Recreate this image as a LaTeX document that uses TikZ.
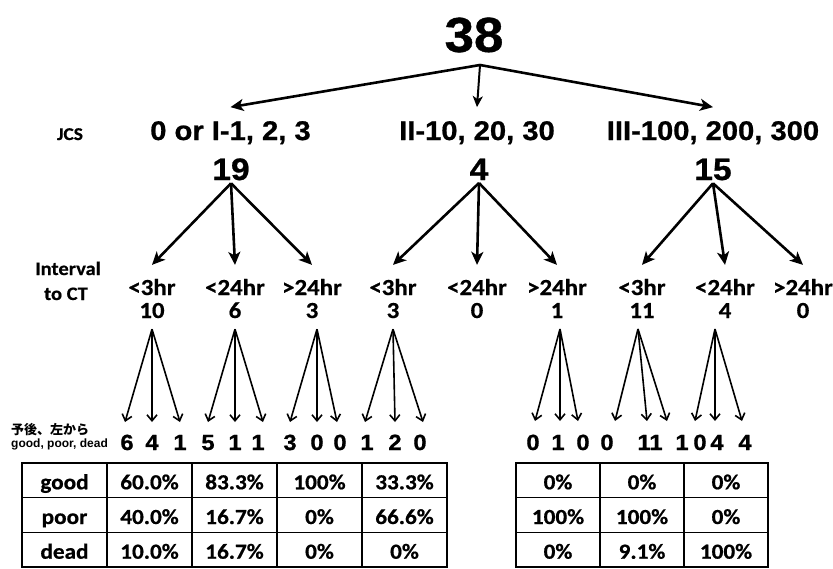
\documentclass[tikz,border=0pt]{standalone}
\usepackage{fontspec}
\setmainfont{Liberation Sans}
\newfontfamily\headfont[FakeStretch=1.08,FakeBold=0.8]{Liberation Sans}
\newfontfamily\calfont[FakeStretch=1.08,FakeBold=0.6]{Carlito}
\newfontfamily\jpfont{Noto Sans CJK JP}
\usetikzlibrary{arrows.meta}
\begin{document}
\begin{tikzpicture}[x=1pt,y=-1pt,
  bigarrow/.style={-{Stealth[length=13pt,width=12pt,inset=3.5pt]}, line width=2.6pt},
  midarrow/.style={-{Stealth[length=11pt,width=10pt,inset=3pt]}, line width=2pt},
  thinarrow/.style={-{Straight Barb[length=6pt,width=10pt]}, line width=1.6pt},
  lvlone/.style={font=\headfont\bfseries\fontsize{27}{30}\selectfont, inner sep=0pt, anchor=base, outer ysep=14pt},
  cntone/.style={font=\headfont\bfseries\fontsize{31}{32}\selectfont, inner sep=0pt, anchor=base, outer ysep=3pt},
  ivl/.style={font=\calfont\bfseries\fontsize{23}{24}\selectfont, inner sep=0pt, anchor=base, outer ysep=14pt},
  cnttwo/.style={font=\calfont\bfseries\fontsize{23}{24}\selectfont, inner sep=0pt, anchor=base, outer ysep=11pt},
  leaf/.style={font=\headfont\bfseries\fontsize{22}{24}\selectfont, inner sep=0pt, anchor=base},
  side/.style={font=\calfont\bfseries\fontsize{19}{25}\selectfont, inner sep=0pt, anchor=base},
  cell/.style={draw, line width=1.4pt, inner sep=0pt, minimum height=34.67pt, text height=18pt, text depth=0pt, font=\calfont\bfseries\fontsize{21.5}{22}\selectfont},
  cellA/.style={cell, minimum width=85pt},
  cellB/.style={cell, minimum width=84pt}
]
\useasboundingbox[fill=white] (0,0) rectangle (833,568);

% root
\node[font=\headfont\bfseries\fontsize{49}{50}\selectfont, inner sep=0pt] (top) at (474,35) {38};
\coordinate (split) at (480,65);

% level 1
\node[side, font=\calfont\bfseries\fontsize{18}{18}\selectfont] (jcs) at (70,140) {JCS};
\node[lvlone] (ja) at (230.5,140) {0 or I-1, 2, 3};
\node[lvlone] (jb) at (477,140) {II-10, 20, 30};
\node[lvlone] (jc) at (713,140) {III-100, 200, 300};
\draw[bigarrow] (split) -- (ja.north);
\draw[midarrow] (split) -- (jb.north);
\draw[bigarrow] (split) -- (jc.north);

\node[cntone] (na) at (231,180) {19};
\node[cntone] (nb) at (479,180) {4};
\node[cntone] (nc) at (713,180) {15};

% level 2
\node[side] (iv1) at (68,275) {Interval};
\node[side] (iv2) at (66,300) {to CT};

\node[ivl] (i1) at (152,295) {<3hr};
\node[ivl] (i2) at (235,295) {<24hr};
\node[ivl] (i3) at (312,295) {>24hr};
\node[ivl] (i4) at (393,295) {<3hr};
\node[ivl] (i5) at (477,295) {<24hr};
\node[ivl] (i6) at (557,295) {>24hr};
\node[ivl] (i7) at (642,295) {<3hr};
\node[ivl] (i8) at (725,295) {<24hr};
\node[ivl] (i9) at (803,295) {>24hr};

\node[cnttwo] (c1) at (152,318) {10};
\node[cnttwo] (c2) at (235,318) {6};
\node[cnttwo] (c3) at (312,318) {3};
\node[cnttwo] (c4) at (393,318) {3};
\node[cnttwo] (c5) at (477,318) {0};
\node[cnttwo] (c6) at (557,318) {1};
\node[cnttwo] (c7) at (642,318) {11};
\node[cnttwo] (c8) at (725,318) {4};
\node[cnttwo] (c9) at (803,318) {0};

\foreach \s/\t in {na/i1,na/i2,na/i3,nb/i4,nb/i5,nb/i6,nc/i7,nc/i8,nc/i9}
  \draw[bigarrow] (\s.south) -- (\t.north);

% level 3 tips
\foreach \n/\x in {1a/125,1b/152,1c/180,2a/208,2b/235,2c/263,3a/290,3b/317,3c/337,4a/365,4b/395,4c/423}
  \coordinate (t\n) at (\x,422);
\foreach \n/\x in {6a/535,6b/560,6c/578,7a/615,7b/647,7c/667,8a/695,8b/715,8c/742}
  \coordinate (t\n) at (\x,421);

\foreach \k in {a,b,c}{
  \draw[thinarrow] (c1.south) -- (t1\k);
  \draw[thinarrow] (c2.south) -- (t2\k);
  \draw[thinarrow] ([xshift=5pt]c3.south) -- (t3\k);
  \draw[thinarrow] (c4.south) -- (t4\k);
  \draw[thinarrow] ([xshift=3pt]c6.south) -- (t6\k);
  \draw[thinarrow] ([xshift=-4pt]c7.south) -- (t7\k);
  \draw[thinarrow] ([xshift=-10pt]c8.south) -- (t8\k);
}

% outcome counts
\node[font=\jpfont\bfseries\fontsize{13}{13}\selectfont, inner sep=0pt, anchor=base west] (jpa) at (11,434) {予後、左から};
\node[font=\bfseries\fontsize{12}{12}\selectfont, inner sep=0pt, anchor=base west] (jpb) at (11,447) {good, poor, dead};

\foreach \n/\x/\v in {1/127/6,2/152/4,3/180/1,4/208/5,5/235/1,6/258/1,7/290/3,8/317/0,9/340/0,10/367/1,11/395/2,12/420/0,13/533/0,14/558/1,15/583/0,16/607/0,17/650/11,18/682/1,19/700/0,20/717/4,21/745/4}
  \node[leaf] (o\n) at (\x,450) {\v};

% table 1
\node[cellA] (a11) at (64.5,480.3) {good};
\node[cellA] (a12) at (149.5,480.3) {60.0\%};
\node[cellA] (a13) at (234.5,480.3) {83.3\%};
\node[cellA] (a14) at (319.5,480.3) {100\%};
\node[cellA] (a15) at (404.5,480.3) {33.3\%};
\node[cellA] (a21) at (64.5,515) {poor};
\node[cellA] (a22) at (149.5,515) {40.0\%};
\node[cellA] (a23) at (234.5,515) {16.7\%};
\node[cellA] (a24) at (319.5,515) {0\%};
\node[cellA] (a25) at (404.5,515) {66.6\%};
\node[cellA] (a31) at (64.5,549.7) {dead};
\node[cellA] (a32) at (149.5,549.7) {10.0\%};
\node[cellA] (a33) at (234.5,549.7) {16.7\%};
\node[cellA] (a34) at (319.5,549.7) {0\%};
\node[cellA] (a35) at (404.5,549.7) {0\%};

% table 2
\node[cellB] (b11) at (558,480.3) {0\%};
\node[cellB] (b12) at (642,480.3) {0\%};
\node[cellB] (b13) at (726,480.3) {0\%};
\node[cellB] (b21) at (558,515) {100\%};
\node[cellB] (b22) at (642,515) {100\%};
\node[cellB] (b23) at (726,515) {0\%};
\node[cellB] (b31) at (558,549.7) {0\%};
\node[cellB] (b32) at (642,549.7) {9.1\%};
\node[cellB] (b33) at (726,549.7) {100\%};
\end{tikzpicture}
\end{document}
